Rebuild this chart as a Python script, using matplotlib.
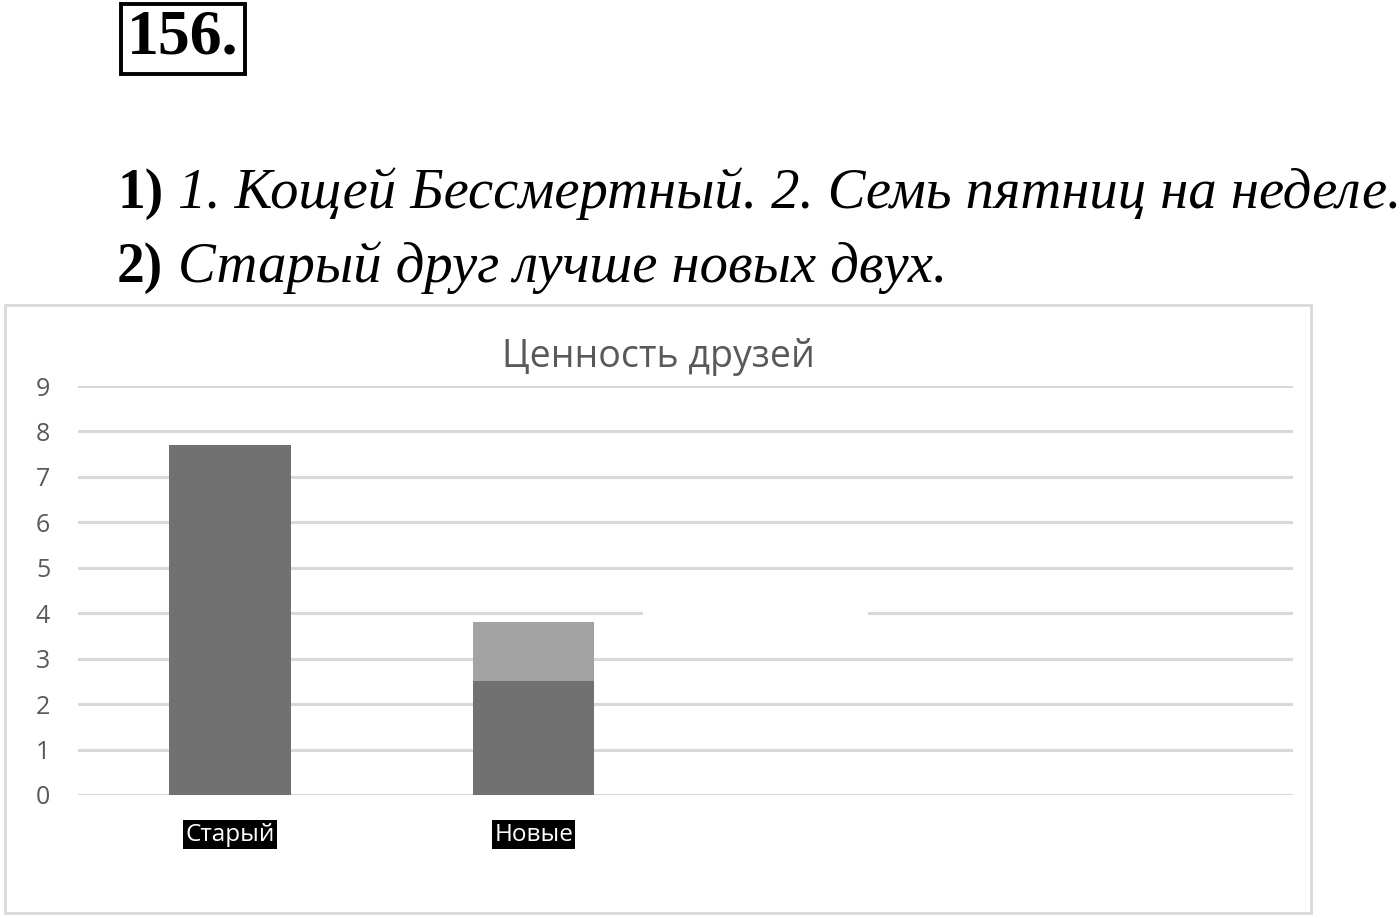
import numpy as np
import matplotlib
matplotlib.use('Agg')
from matplotlib import pyplot as plt
from matplotlib.patches import Rectangle

# данные графика
categories = ['Старый', 'Новые', '', '']
dark_values = [7.7, 2.5, 0, 0]
light_values = [0, 1.3, 0, 0]
y_ticks = list(range(0, 10))

title = 'Ценность друзей'
task_num = '156.'
line1_num, line1_text = '1)', '1. Кощей Бессмертный. 2. Семь пятниц на неделе.'
line2_num, line2_text = '2)', 'Старый друг лучше новых двух.'

W, H = 1400, 918
fig = plt.figure(figsize=(W / 100, H / 100), dpi=100)
fig.patch.set_facecolor('white')


def fx(px):
    return px / W


def fy(py):
    return 1 - py / H


serif = 'Liberation Serif'
sans = 'Open Sans'

# номер задачи в рамке
fig.text(fx(183), fy(39), task_num, family=serif, weight='bold', fontsize=46,
         ha='center', va='center', color='black',
         bbox=dict(boxstyle='square,pad=0.1', fc='white', ec='black', lw=2.8))

# строки ответа
for num, txt, base in [(line1_num, line1_text, 208), (line2_num, line2_text, 282)]:
    fig.text(fx(117), fy(base), num, family=serif, weight='bold', fontsize=40,
             ha='left', va='baseline', color='black')
    fig.text(fx(178), fy(base), txt, family=serif, style='italic', fontsize=40.8,
             ha='left', va='baseline', color='black')

# рамка диаграммы
fig.patches.append(Rectangle((fx(5), fy(913)), fx(1311) - fx(5), fy(305) - fy(913),
                             transform=fig.transFigure, fill=False,
                             ec='#d9d9d9', lw=2))

ax = fig.add_axes([fx(78), fy(795), fx(1293) - fx(78), fy(386) - fy(795)])
x = np.arange(len(categories))
ax.bar(x, dark_values, width=0.4, color='#717171', zorder=2)
ax.bar(x, light_values, width=0.4, bottom=dark_values, color='#a3a3a3', zorder=2)

ax.set_xlim(-0.5, len(categories) - 0.5)
ax.set_ylim(0, 9)
ax.set_yticks(y_ticks)
ax.set_axisbelow(True)
ax.grid(axis='y', color='#d9d9d9', lw=2.2)
for s in ax.spines.values():
    s.set_visible(False)
ax.tick_params(axis='y', length=0, pad=20, labelsize=18, labelcolor='#595959')
for t in ax.get_yticklabels():
    t.set_family(sans)
ax.set_xticks(x)
ax.set_xticklabels(categories)
ax.tick_params(axis='x', length=0, pad=20, labelsize=17.5, labelcolor='white')
for t in ax.get_xticklabels():
    t.set_family(sans)
    if t.get_text():
        t.set_bbox(dict(boxstyle='square,pad=0.1', fc='black', ec='none'))

# белый разрыв на линии сетки
ax.add_patch(Rectangle((1.36, 3.85), 0.74, 0.3, fc='white', ec='none', zorder=1))

fig.text(fx(658), fy(357), title, family=sans, fontsize=27, color='#595959',
         ha='center', va='center')

fig.savefig('out.png', dpi=100)
